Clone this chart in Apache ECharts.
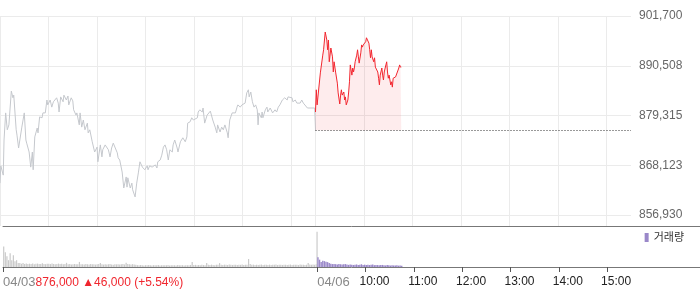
<!DOCTYPE html>
<html><head><meta charset="utf-8">
<script src="https://cdn.jsdelivr.net/npm/echarts@6/dist/echarts.min.js"></script>
<style>html,body{margin:0;padding:0;background:#fff}#c{width:700px;height:289px}</style>
</head><body><div id="c"></div>
<script>
// ---- data ----
const yTicks = [856930, 868123, 879315, 890508, 901700];
const dayDates = ['04/03', '04/06'];
const timeTicks = ['10:00', '11:00', '12:00', '13:00', '14:00', '15:00'];
const day1Close = 876000, day1Change = 46000, day1Pct = 5.54;

// [minutes since 09:00, price]
const day1 = [[0,864100],[1,868000],[4,865900],[5,873800],[7,879900],[9,876100],[11,877200],[14,884800],[16,883300],[17,883900],[20,876100],[21,874900],[23,872000],[27,876700],[30,879900],[32,873800],[33,873100],[36,871100],[38,867700],[40,871100],[41,867100],[43,874500],[46,876500],[47,875400],[49,879000],[52,878800],[53,879900],[56,879900],[58,882800],[59,881700],[62,882800],[64,881200],[66,882400],[68,882100],[70,883300],[72,882100],[73,880100],[75,883500],[78,882400],[79,883900],[82,882800],[84,883700],[85,881700],[88,883300],[90,882600],[91,880600],[94,879400],[95,879900],[98,877200],[99,879900],[101,876700],[103,878300],[105,876100],[108,877600],[109,875400],[111,876100],[114,873400],[115,873800],[117,871100],[120,872200],[121,868900],[124,872700],[126,870000],[127,871600],[130,872700],[134,871600],[136,870000],[138,872000],[140,873100],[142,872700],[145,870900],[146,869800],[148,869300],[151,866600],[152,864800],[153,863000],[156,865500],[157,863200],[158,865300],[161,863000],[163,864100],[164,862600],[167,861000],[169,864100],[171,866400],[173,868900],[176,867700],[177,868000],[179,867100],[182,868000],[183,867100],[185,868000],[188,867700],[189,867500],[192,868200],[194,867500],[195,868900],[198,869300],[200,870400],[202,872200],[204,872700],[206,871600],[208,869300],[210,871600],[213,871100],[214,872700],[216,873800],[219,872000],[220,871100],[223,873400],[225,873100],[226,874300],[229,873400],[231,874500],[232,877600],[235,877900],[237,878800],[239,878300],[241,878500],[244,878800],[245,880100],[247,880600],[250,880100],[251,881000],[253,877600],[256,879400],[257,879000],[260,880300],[263,878300],[266,876700],[268,875400],[269,877200],[272,875600],[274,876700],[276,876100],[278,877200],[281,875400],[282,874300],[284,878300],[287,879900],[288,880100],[291,879900],[293,881200],[294,881700],[297,881200],[299,881700],[300,881900],[303,882100],[305,884400],[307,885100],[308,883500],[310,884600],[312,882400],[314,881200],[316,881700],[318,880600],[319,877200],[320,879900],[323,878800],[324,880100],[325,878800],[328,880600],[330,881200],[331,880100],[334,881000],[336,881200],[337,879900],[340,880600],[342,880100],[344,881200],[346,881700],[349,882800],[350,882800],[352,883300],[355,882800],[356,883500],[358,883900],[361,883300],[362,882400],[365,882800],[367,882100],[368,882400],[371,882100],[373,882800],[375,882100],[377,882400],[380,881000],[389,881000],[390,876000]];

const day2 = [[0,880100],[1,885100],[2,881700],[6,888900],[7,889100],[9,892900],[10,894100],[11,894500],[12,898100],[14,896300],[15,894100],[16,896300],[17,891400],[19,894500],[20,894700],[21,892500],[22,889100],[23,891400],[25,888900],[26,889100],[27,886600],[28,884400],[30,881900],[31,883900],[32,885100],[33,883900],[35,884600],[36,882800],[37,883500],[38,881700],[40,882800],[41,884600],[42,886900],[43,890700],[45,888400],[46,890000],[47,889100],[48,890000],[49,891400],[51,892900],[52,894100],[53,892500],[54,891100],[56,893400],[57,895200],[58,894700],[59,895200],[61,895600],[62,895900],[63,896800],[64,896800],[66,895600],[67,894100],[68,892300],[69,894100],[70,892500],[72,891400],[73,892300],[74,890200],[75,890000],[77,889100],[78,887700],[79,886200],[80,888400],[82,890000],[83,888400],[84,887300],[85,889100],[87,890700],[88,891400],[89,889100],[90,887700],[91,888400],[93,886200],[94,886900],[95,885700],[96,887700],[98,888000],[99,888000],[100,887700],[101,888400],[103,890000],[104,890700],[105,890200],[106,890200]];

// volume per 2-minute bucket
const day1Vol = [21000,15000,11000,7000,14000,7000,12000,6000,7000,4200,4000,3300,4000,
3200,3600,3000,3400,3100,3700,2900,3300,3500,3000,3200,3800,3100,2900,3400,3300,3000,3600,3200,2800,3100,3500,3000,3300,2900,3200,
4300,
2800,3000,2600,2900,3100,2700,2900,
5200,
2700,2900,2500,3000,2800,2600,3100,2700,2900,2500,2800,3000,
4200,
2700,2500,2900,2600,2800,3000,2600,2400,2800,2700,2900,2500,2700,3100,2600,
4300,
3000,2800,2600,2900,2500,2300,
1900,1700,2000,1800,1600,1900,1700,2100,1800,1600,1900,1800,1700,2000,1600,1800,1900,1700,1800,2000,1600,1700,1900,1800,1600,2000,1700,1800,1900,1600,1800,1700,1900,
2100,5100,
2000,2200,1800,2100,1900,2300,2000,1800,
4100,
2200,2000,2400,2100,1900,2300,2200,
4000,
2300,2100,2400,2200,2000,2500,2300,2100,2200,2400,2000,2300,2200,2500,2100,2300,2400,
8200,3100,
2200,2400,2100,2300,2000,2200,2500,2100,2300,2200,2000,2400,2100,2300,2200,2500,2000,2200,2300,2100,2400,2200,2000,2300,2500,2100,2200,2400,2300,2000,2600,2200,2400,2100,2300,
4100,
2500,2300,2600,2400,2700];
const day1CloseVol = 36000;
const day2Vol = [10000,7500,5200,6500,6000,5300,5000,4200,3300,3000,3200,2900,2600,3000,2800,2500,2700,3000,2500,2200,2600,2400,2100,2300,2600,2100,2200,2800,2000,2400,2100,2200,2000,2300,2500,1900,2100,2000,1700,2000,2100,1900,1600,2000,1800,1500,1900,1600,1500,1700,1400,1500,1300];

// ---- derived ----
const Y_MIN = yTicks[0], Y_MAX = yTicks[yTicks.length - 1];
const Y_INT = (Y_MAX - Y_MIN) / (yTicks.length - 1);
const SESSION = 390;           // 09:00 - 15:30
const X_MAX = SESSION * 2;
const PLOT_W = 631;
const VOL_X_MAX = 700 / (PLOT_W / X_MAX);
const fmt = v => Math.round(v).toLocaleString('en-US');
const toMin = s => { const [h, m] = s.split(':').map(Number); return (h - 9) * 60 + m; };
const dayStarts = [0, SESSION];
const timeVals = timeTicks.map(t => SESSION + toMin(t));
const vLines = [0].concat(timeTicks.map(toMin), [SESSION], timeVals);
const base = day1Close - Y_MIN;
const FONT = "'Liberation Sans', Arial, 'Noto Sans CJK KR', sans-serif";

const chart = echarts.init(document.getElementById('c'), null, {renderer: 'canvas'});
chart.setOption({
  animation: false,
  textStyle: {fontFamily: FONT},
  legend: {
    data: ['거래량'], right: 16, top: 232, icon: 'rect', itemWidth: 4, itemHeight: 9,
    textStyle: {fontSize: 11, color: '#333', fontFamily: FONT}, padding: 0
  },
  grid: [
    {left: 0, top: 16, width: PLOT_W, height: 199},
    {left: 0, top: 16, width: PLOT_W, height: 210},
    {left: 0, top: 226, width: 700, height: 42}
  ],
  xAxis: [
    {gridIndex: 0, type: 'value', min: 0, max: X_MAX, show: false},
    {gridIndex: 1, type: 'value', min: 0, max: X_MAX,
      axisLine: {show: false}, axisLabel: {show: false},
      axisTick: {show: false, customValues: vLines},
      splitLine: {show: true, lineStyle: {color: '#ebebeb', width: 1}}},
    {gridIndex: 2, type: 'value', min: 0, max: VOL_X_MAX, position: 'bottom',
      axisLine: {show: true, lineStyle: {color: '#777', width: 1}},
      axisTick: {show: true, customValues: dayStarts, length: 5, lineStyle: {color: '#555'}},
      axisLabel: {customValues: dayStarts, align: 'left', margin: 9,
        formatter: v => v === 0
          ? '{g|' + dayDates[0] + '}{r|' + fmt(day1Close) + ' ▲' + fmt(day1Change) + ' (+' + day1Pct.toFixed(2) + '%)}'
          : '{g|' + dayDates[1] + '}',
        rich: {g: {color: '#888', fontSize: 13, fontFamily: FONT}, r: {color: '#f0262e', fontSize: 12, fontFamily: FONT}}},
      splitLine: {show: false}},
    {gridIndex: 2, type: 'value', min: 0, max: VOL_X_MAX, position: 'bottom',
      axisLine: {show: false},
      axisTick: {show: true, customValues: timeVals, length: 5, lineStyle: {color: '#555'}},
      axisLabel: {customValues: timeVals, align: 'center', margin: 9, padding: [0, 0, 0, 18],
        color: '#222', fontSize: 12,
        formatter: v => timeTicks[timeVals.indexOf(v)]},
      splitLine: {show: false}},
    {gridIndex: 2, type: 'value', min: 0, max: VOL_X_MAX, position: 'top',
      axisLine: {show: true, lineStyle: {color: '#777', width: 1}},
      axisTick: {show: false}, axisLabel: {show: false}, splitLine: {show: false}}
  ],
  yAxis: [
    {gridIndex: 0, type: 'value', min: 0, max: Y_MAX - Y_MIN, interval: Y_INT, position: 'right',
      axisLine: {show: false}, axisTick: {show: false},
      axisLabel: {margin: 8, color: '#666', fontSize: 12, formatter: v => fmt(v + Y_MIN)},
      splitLine: {show: true, lineStyle: {color: '#ebebeb', width: 1}}},
    {gridIndex: 1, type: 'value', min: 0, max: 1, show: false},
    {gridIndex: 2, type: 'value', min: 0, max: 42000, show: false}
  ],
  series: [
    {type: 'line', xAxisIndex: 0, yAxisIndex: 0, silent: true, showSymbol: false, z: 3,
      data: day1.map(([t, p]) => [t, p - Y_MIN]),
      lineStyle: {color: '#c5c8cd', width: 1}},
    {type: 'line', xAxisIndex: 0, yAxisIndex: 0, silent: true, showSymbol: false, z: 4,
      data: day2.map(([t, p]) => [SESSION + t, p - Y_MIN]),
      lineStyle: {color: '#f2262f', width: 1},
      areaStyle: {color: 'rgba(242,38,48,0.12)', origin: base},
      markLine: {symbol: 'none', silent: true, label: {show: false},
        lineStyle: {type: [1, 2], color: '#333', width: 1},
        data: [[{coord: [SESSION, base]}, {coord: [X_MAX, base]}]]}},
    {type: 'bar', name: 'day1vol', xAxisIndex: 2, yAxisIndex: 2, silent: true, barWidth: 1.2, barGap: '-100%',
      itemStyle: {color: '#cacaca'},
      data: day1Vol.map((v, i) => [i * 2 + 1, v]).concat([[SESSION, day1CloseVol]])},
    {type: 'bar', name: '거래량', xAxisIndex: 2, yAxisIndex: 2, silent: true, barWidth: 1.4, barGap: '-100%',
      itemStyle: {color: '#9a88c9'},
      data: day2Vol.map((v, i) => [SESSION + i * 2 + 1, v])}
  ]
});
</script></body></html>
